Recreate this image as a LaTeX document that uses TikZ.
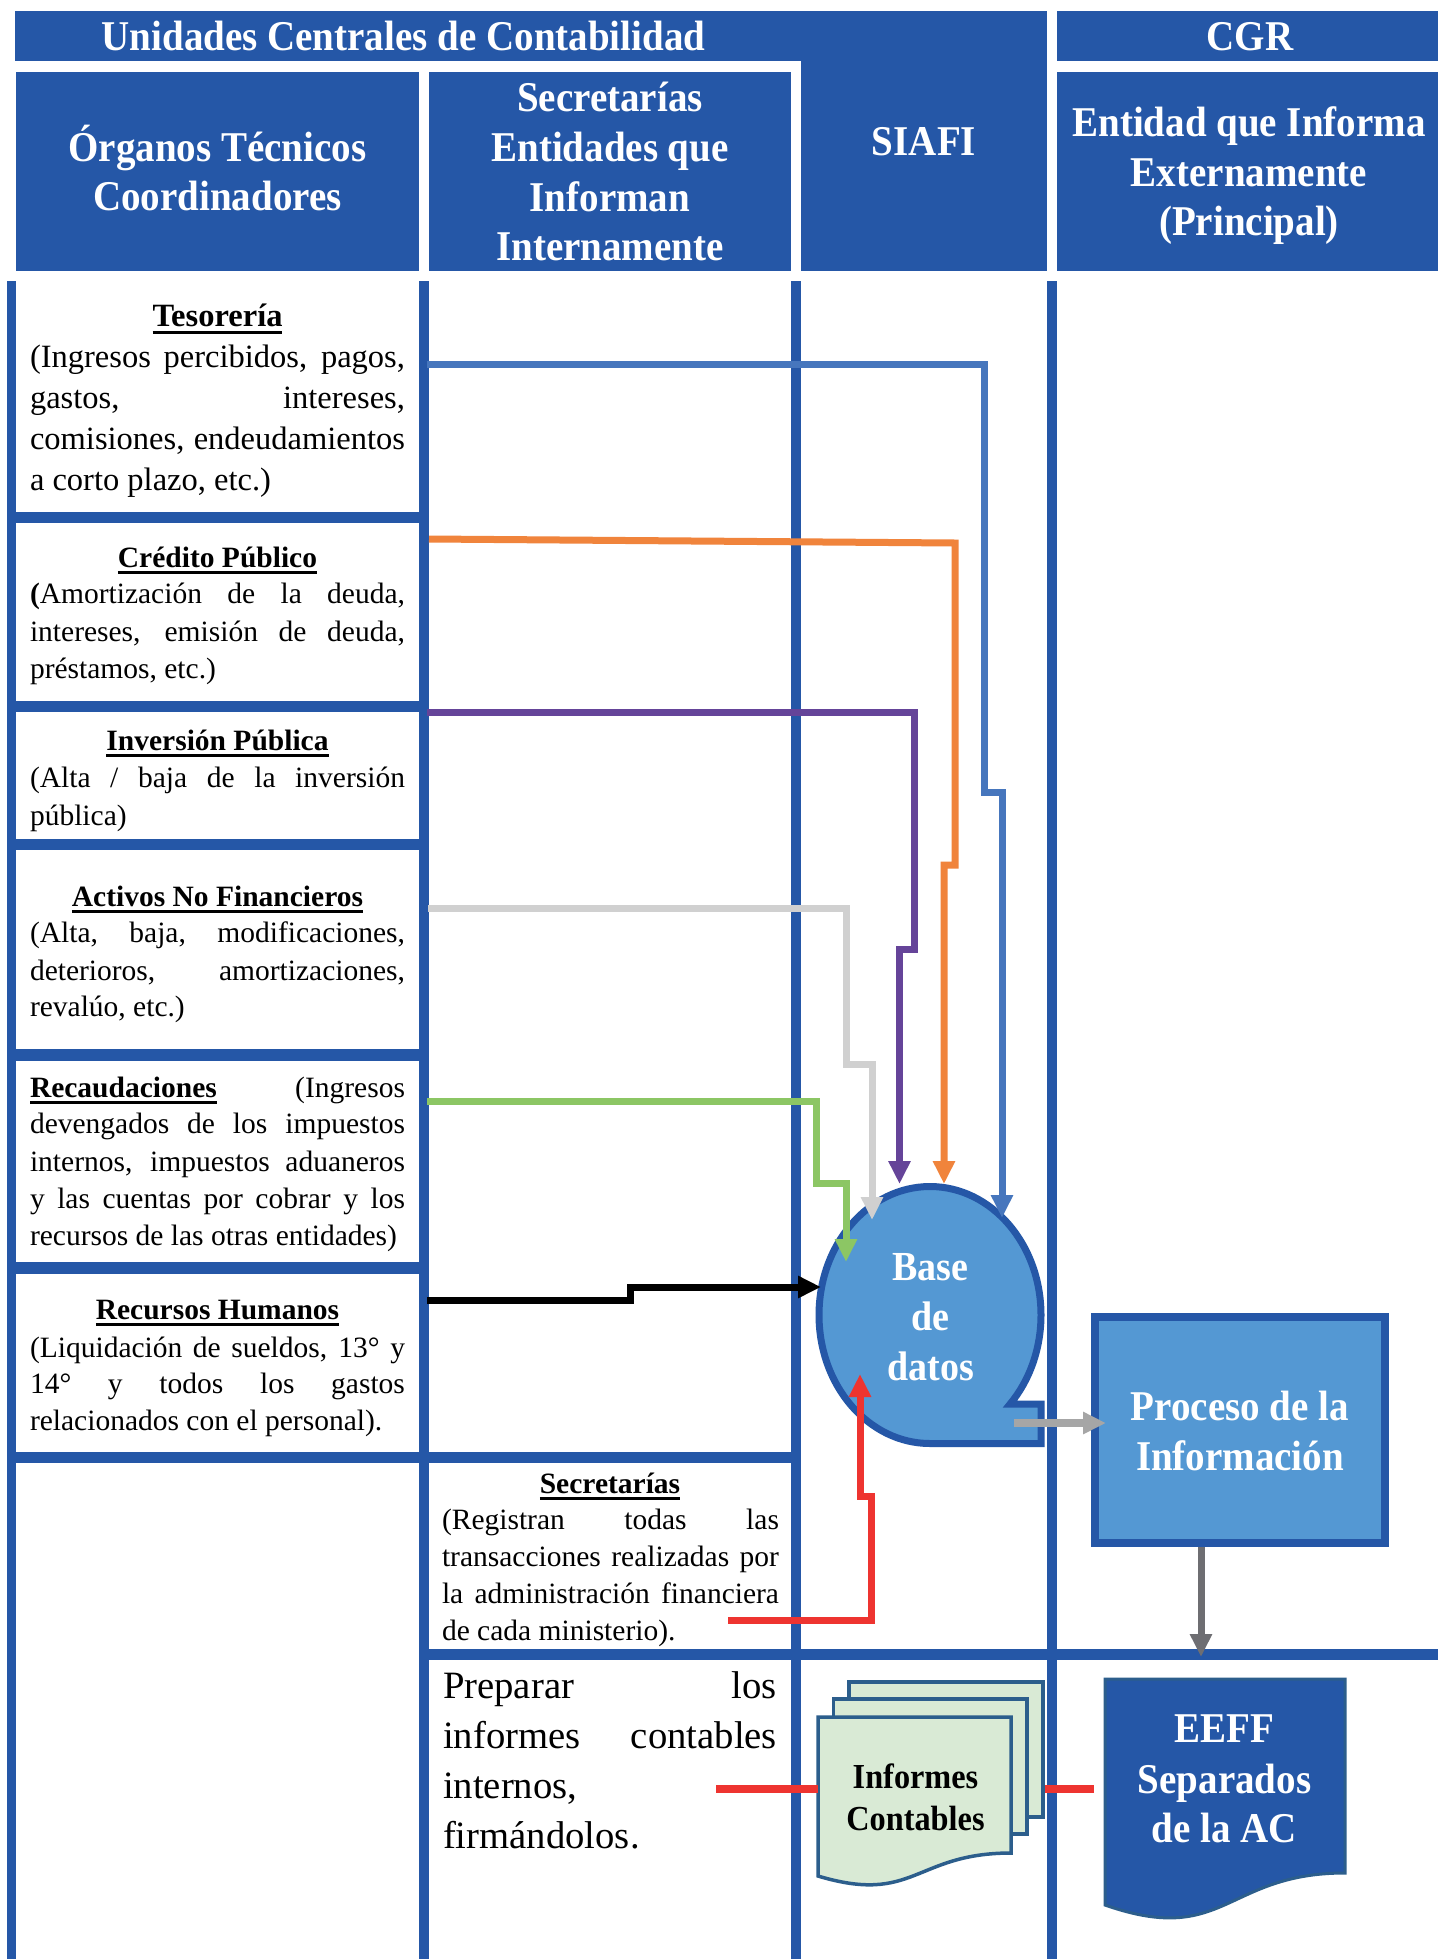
\documentclass[tikz,border=0pt]{standalone}
\usepackage{fontspec}
\setmainfont{Liberation Serif}
\newfontfamily\dispfont{Liberation Serif}[FakeStretch=0.92]
\usetikzlibrary{arrows.meta}
\definecolor{hdr}{RGB}{37,87,167}
\definecolor{mid}{RGB}{84,152,211}
\definecolor{cblue}{RGB}{70,118,189}
\definecolor{corange}{RGB}{240,132,60}
\definecolor{cpurple}{RGB}{101,68,153}
\definecolor{cgray}{RGB}{208,208,208}
\definecolor{cgreen}{RGB}{140,198,100}
\definecolor{cred}{RGB}{238,52,48}
\definecolor{agray}{RGB}{166,166,166}
\definecolor{dgray}{RGB}{110,110,114}
\definecolor{docfill}{RGB}{217,234,213}
\definecolor{docline}{RGB}{44,94,140}
\newsavebox\ulbox
\newcommand\ulb[1]{\sbox\ulbox{\bfseries #1}\rlap{\rule[-0.24em]{\wd\ulbox}{0.1em}}\usebox\ulbox}
\newcommand\bodyfont{\fontsize{29.5}{36}\selectfont}
\newcommand\tesfont{\fontsize{32.5}{39}\selectfont}
\newcommand\prepfont{\fontsize{38.7}{48}\selectfont}
\newcommand\hdfont{\dispfont\bfseries\fontsize{42.4}{50}\selectfont}
\newcommand\basefont{\dispfont\bfseries\fontsize{41.3}{50}\selectfont}
\newcommand\docfont{\dispfont\bfseries\fontsize{35.1}{42}\selectfont}
% justified line, left line, centred line
\newcommand\JL[5]{\node[bt,font=#1,anchor=base west] (#2) at (#3) {\makebox[#4][s]{#5}};}
\newcommand\LL[4]{\node[bt,font=#1,anchor=base west] (#2) at (#3) {#4};}
\newcommand\CL[4]{\node[bt,font=#1,anchor=base] (#2) at (#3) {#4};}
\newcommand\HL[3]{\node[hd] (#1) at (#2) {#3};}
\begin{document}
\begin{tikzpicture}[x=1pt,y=-1pt,
  bt/.style={inner sep=0pt,outer sep=0pt},
  hd/.style={inner sep=0pt,outer sep=0pt,anchor=base,text=white,font=\hdfont},
  wt/.style={inner sep=0pt,outer sep=0pt,anchor=base,text=white},
  flow/.style={line width=7pt,line cap=butt,-{Triangle[width=21pt,length=23pt]}},
  link/.style={line width=8pt,cred},
  docpage/.style={fill=docfill,draw=docline,line width=3.5pt}]
\useasboundingbox (0,0) rectangle (1438,1959);
\fill[white] (0,0) rectangle (1438,1959);
% ---------- header ----------
\fill[hdr] (15,11) rectangle (1047,61);
\fill[hdr] (801,11) rectangle (1047,271);
\fill[hdr] (1057,11) rectangle (1438,61);
\fill[hdr] (16,72) rectangle (419,271);
\fill[hdr] (429,72) rectangle (791,271);
\fill[hdr] (1057,72) rectangle (1438,271);
\HL{hucc}{403.5,51}{Unidades Centrales de Contabilidad}
\HL{hcgr}{1250,51}{CGR}
\HL{hot1}{217.5,161}{Órganos Técnicos}
\HL{hot2}{217.5,210}{Coordinadores}
\HL{hse1}{610,111}{Secretarías}
\HL{hse2}{610,161}{Entidades que}
\HL{hse3}{610,211}{Informan}
\HL{hse4}{610,260}{Internamente}
\HL{hsia}{924,155}{SIAFI}
\HL{hen1}{1249,136}{Entidad que Informa}
\HL{hen2}{1249,186}{Externamente}
\HL{hen3}{1249,235}{(Principal)}
% ---------- lanes and bars ----------
\fill[hdr] (7,281) rectangle (16,1959);
\fill[hdr] (419,281) rectangle (429,1959);
\fill[hdr] (791,281) rectangle (801,1959);
\fill[hdr] (1047,281) rectangle (1057,1959);
\fill[hdr] (7,512) rectangle (429,523);
\fill[hdr] (7,701) rectangle (429,712);
\fill[hdr] (7,839) rectangle (429,850);
\fill[hdr] (7,1049) rectangle (429,1061);
\fill[hdr] (7,1262) rectangle (429,1274);
\fill[hdr] (7,1452) rectangle (801,1463);
\fill[hdr] (419,1649) rectangle (1438,1660);
% ---------- shapes ----------
\filldraw[fill=mid,draw=hdr,line width=7pt] (930,1443.5) arc[start angle=270,end angle=-43.9,x radius=111pt,y radius=128.5pt] -- (1041,1404) -- (1041,1443.5) -- cycle;
\node[draw=hdr,fill=mid,line width=7.5pt,minimum width=290pt,minimum height=226pt,inner sep=0pt] (proc) at (1240,1430) {};
\filldraw[docpage] (849,1682) rectangle (1043,1817);
\filldraw[docpage] (833.5,1699) rectangle (1027,1834);
\filldraw[docpage] (818,1717) -- (1011,1717) -- (1011,1853) .. controls (914.5,1853) and (914.5,1905) .. (818,1876) -- cycle;
\filldraw[fill=hdr,draw=docline,line width=3pt] (1105,1679) -- (1345,1679) -- (1345,1873) .. controls (1225,1873) and (1225,1947) .. (1105,1905) -- cycle;
% ---------- connector ends ----------
\coordinate (tesout) at (427,364);
\coordinate (creout) at (429,539);
\coordinate (invout) at (427,712);
\coordinate (actout) at (428,908);
\coordinate (recout) at (427,1101);
\coordinate (rhout) at (427,1300);
\coordinate (secout) at (728,1620);
\coordinate (bin1) at (1002,1218);
\coordinate (bin2) at (944,1184);
\coordinate (bin3) at (899.5,1184);
\coordinate (bin4) at (872,1220);
\coordinate (bin5) at (846,1262);
\coordinate (bin6) at (821,1287);
\coordinate (bin7) at (860,1374);
\coordinate (tailout) at (1014,1423);
\coordinate (procin) at (1106,1423);
\coordinate (procout) at (1201,1547);
\coordinate (eeffin) at (1201,1657);
\coordinate (prepout) at (716,1789);
\coordinate (docin) at (818,1789);
\coordinate (docout) at (1045,1789);
\coordinate (eeffl) at (1094,1789);
% ---------- connectors ----------
\draw[flow,cblue] (tesout) -- (984,364) -- (984,792) -- (1002,792) -- (bin1);
\draw[flow,corange] (creout) -- (955,543) -- (955,865) -- (944,865) -- (bin2);
\draw[flow,cpurple] (invout) -- (914,712) -- (914,949) -- (899.5,949) -- (bin3);
\draw[flow,cgray] (actout) -- (846,908) -- (846,1064) -- (872,1064) -- (bin4);
\draw[flow,cgreen] (recout) -- (816,1101) -- (816,1183) -- (846,1183) -- (bin5);
\draw[flow,black] (rhout) -- (630,1300) -- (630,1287) -- (bin6);
\draw[flow,cred] (secout) -- (871.5,1620) -- (871.5,1496) -- (860,1496) -- (bin7);
\draw[flow,agray,line width=8pt] (tailout) -- (procin);
\draw[flow,dgray] (procout) -- (eeffin);
\draw[link] (prepout) -- (docin);
\draw[link] (docout) -- (eeffl);
% ---------- shape texts ----------
\node[wt,font=\basefont] (bd1) at (930.5,1280) {Base};
\node[wt,font=\basefont] (bd2) at (930.5,1330) {de};
\node[wt,font=\basefont] (bd3) at (930.5,1380) {datos};
\node[wt,font=\hdfont] (pr1) at (1240,1420) {Proceso de la};
\node[wt,font=\hdfont] (pr2) at (1240,1470) {Información};
\node[wt,font=\hdfont] (ee1) at (1224.5,1742) {EEFF};
\node[wt,font=\hdfont] (ee2) at (1224.5,1793) {Separados};
\node[wt,font=\hdfont] (ee3) at (1224.5,1842) {de la AC};
\node[bt,anchor=base,font=\docfont] (ic1) at (915.5,1788) {Informes};
\node[bt,anchor=base,font=\docfont] (ic2) at (915.5,1830) {Contables};
% ---------- left column texts ----------
\CL{\tesfont}{tesh}{217.5,326}{\ulb{Tesorería}}
\JL{\tesfont}{tes1}{30,367}{375pt}{(Ingresos percibidos, pagos,}
\JL{\tesfont}{tes2}{30,408}{375pt}{gastos, intereses,}
\JL{\tesfont}{tes3}{30,449}{375pt}{comisiones, endeudamientos}
\LL{\tesfont}{tes4}{30,490}{a corto plazo, etc.)}
\CL{\bodyfont}{creh}{217.5,567}{\ulb{Crédito Público}}
\JL{\bodyfont}{cre1}{30,603}{375pt}{\textbf{(}Amortización de la deuda,}
\JL{\bodyfont}{cre2}{30,641}{375pt}{intereses, emisión de deuda,}
\LL{\bodyfont}{cre3}{30,678}{préstamos, etc.)}
\CL{\bodyfont}{invh}{217.5,750}{\ulb{Inversión Pública}}
\JL{\bodyfont}{inv1}{30,787}{375pt}{(Alta / baja de la inversión}
\LL{\bodyfont}{inv2}{30,825}{pública)}
\CL{\bodyfont}{acth}{217.5,906}{\ulb{Activos No Financieros}}
\JL{\bodyfont}{act1}{30,942}{375pt}{(Alta, baja, modificaciones,}
\JL{\bodyfont}{act2}{30,980}{375pt}{deterioros, amortizaciones,}
\LL{\bodyfont}{act3}{30,1016}{revalúo, etc.)}
\JL{\bodyfont}{rec1}{30,1097}{375pt}{\ulb{Recaudaciones} (Ingresos}
\JL{\bodyfont}{rec2}{30,1133}{375pt}{devengados de los impuestos}
\JL{\bodyfont}{rec3}{30,1171}{375pt}{internos, impuestos aduaneros}
\JL{\bodyfont}{rec4}{30,1208}{375pt}{y las cuentas por cobrar y los}
\LL{\bodyfont}{rec5}{30,1245}{recursos de las otras entidades)}
\CL{\bodyfont}{rhh}{217.5,1319}{\ulb{Recursos Humanos}}
\JL{\bodyfont}{rh1}{30,1357}{375pt}{(Liquidación de sueldos, 13° y}
\JL{\bodyfont}{rh2}{30,1393}{375pt}{14° y todos los gastos}
\LL{\bodyfont}{rh3}{30,1430}{relacionados con el personal).}
% ---------- second column texts ----------
\CL{\bodyfont}{sech}{610,1493}{\ulb{Secretarías}}
\JL{\bodyfont}{sec1}{442,1529}{337pt}{(Registran todas las}
\JL{\bodyfont}{sec2}{442,1566}{337pt}{transacciones realizadas por}
\JL{\bodyfont}{sec3}{442,1603}{337pt}{la administración financiera}
\LL{\bodyfont}{sec4}{442,1640}{de cada ministerio).}
\JL{\prepfont}{pre1}{443,1698}{334pt}{Preparar los}
\JL{\prepfont}{pre2}{443,1748}{334pt}{informes contables}
\LL{\prepfont}{pre3}{443,1798}{internos,}
\LL{\prepfont}{pre4}{443,1848}{firmándolos.}
\end{tikzpicture}
\end{document}
